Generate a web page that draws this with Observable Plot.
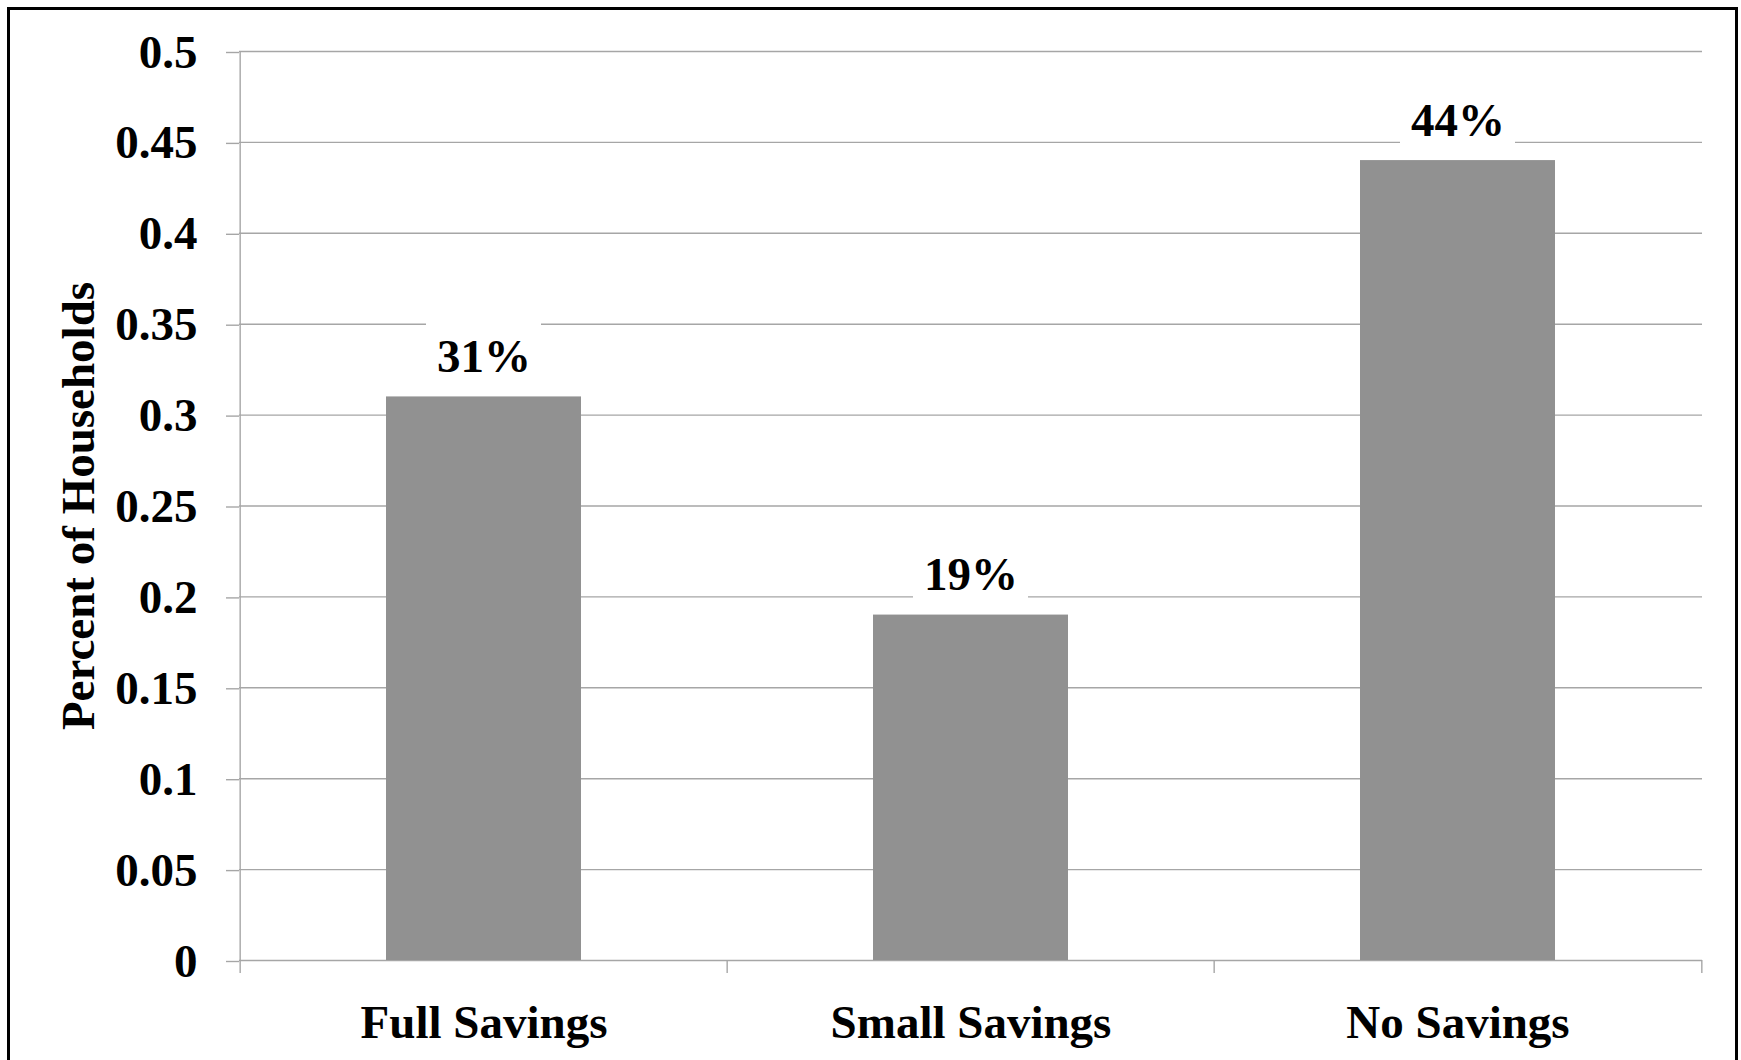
<!DOCTYPE html>
<html>
<head>
<meta charset="utf-8">
<script src="https://cdn.jsdelivr.net/npm/d3@7"></script>
<script src="https://cdn.jsdelivr.net/npm/@observablehq/plot@0.6"></script>
<style>
  html, body { margin: 0; padding: 0; background: #fff; overflow: hidden; }
  #frame { position: absolute; left: 7px; top: 7px; width: 1725px; height: 1100px; border: 3px solid #000; background: #fff; }
  #frame svg { display: block; }
</style>
</head>
<body>
<div id="frame"></div>
<script>
const categories = ["Full Savings", "Small Savings", "No Savings"];
const values = [0.31, 0.19, 0.44];
const valueLabels = ["31%", "19%", "44%"];
const yTicks = [0, 0.05, 0.1, 0.15, 0.2, 0.25, 0.3, 0.35, 0.4, 0.45, 0.5];
const yTickLabels = ["0", "0.05", "0.1", "0.15", "0.2", "0.25", "0.3", "0.35", "0.4", "0.45", "0.5"];
const yTitle = "Percent of Households";

const data = categories.map((c, i) => ({category: c, value: values[i], label: valueLabels[i]}));

const W = 1725, H = 1050;
const mL = 229, mR = 33, mT = 41, mB = 100;
const half = (W - mL - mR) / categories.length / 2;
const grid = "#a6a6a6";
const font = {fontFamily: "'Liberation Serif', 'Times New Roman', serif", fontWeight: "bold", fontSize: 47};

const chart = Plot.plot({
  width: W,
  height: H,
  marginLeft: mL,
  marginRight: mR,
  marginTop: mT,
  marginBottom: mB,
  style: {fontFamily: font.fontFamily, fontSize: "47px", fontWeight: "bold", color: "#000", background: "#fff", overflow: "visible"},
  x: {type: "band", domain: categories, paddingInner: 0.6, paddingOuter: 0.3, label: null},
  y: {domain: [0, 0.5], label: null},
  marks: [
    Plot.gridY(yTicks, {stroke: grid, strokeOpacity: 1, strokeWidth: 1.4}),
    Plot.axisY({ticks: yTicks, tickFormat: (d) => yTickLabels[yTicks.indexOf(d)], tickSize: 13, tickPadding: 29,
      stroke: grid, strokeWidth: 1.4, fill: "#000", dy: 1, ...font}),
    Plot.ruleX([categories[0]], {x: d => d, dx: -half, y1: 0, y2: 0.5, stroke: grid, strokeWidth: 1.4}),
    Plot.axisX({ticks: categories, text: null, tickSize: 13, dx: -half, stroke: grid, strokeWidth: 1.4}),
    Plot.axisX({ticks: [categories[categories.length - 1]], text: null, tickSize: 13, dx: half, stroke: grid, strokeWidth: 1.4}),
    Plot.axisX({tickSize: 0, tickPadding: 44, fill: "#000", ...font}),
    Plot.barY(data, {x: "category", y: "value", fill: "#919191"}),
    Plot.barY(data, {x: "category", y1: "value", y2: "value", fill: "#fff", insetLeft: 40, insetRight: 40, insetTop: -75, insetBottom: 13}),
    Plot.text(data, {x: "category", y: "value", text: "label", lineAnchor: "bottom", dy: -25, fill: "#000", ...font}),
    Plot.text([yTitle], {text: d => d, frameAnchor: "left", rotate: -90, dx: -161, textAnchor: "middle", lineAnchor: "middle", fill: "#000", ...font})
  ]
});
document.getElementById("frame").appendChild(chart);
</script>
</body>
</html>
